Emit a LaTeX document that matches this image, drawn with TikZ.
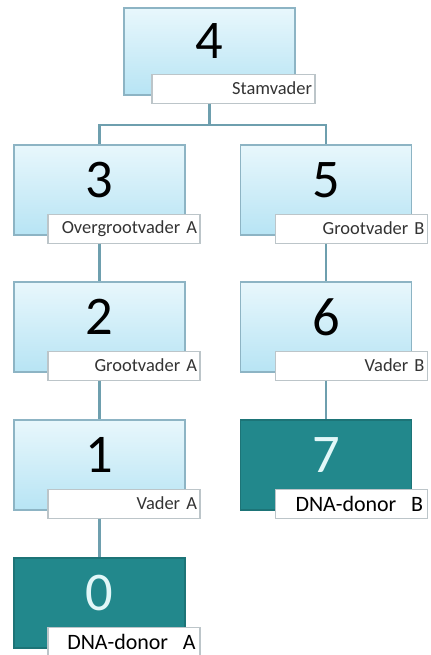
\documentclass[tikz,border=0pt]{standalone}
\usepackage{fontspec}
\setmainfont{Carlito}[WordSpace=0.7]
\usetikzlibrary{calc}
\definecolor{boxline}{HTML}{8DB4C4}
\definecolor{boxtop}{HTML}{E8F7FC}
\definecolor{boxbot}{HTML}{B7E4F4}
\definecolor{donor}{HTML}{22888C}
\definecolor{donortext}{HTML}{E2F7F8}
\definecolor{wire}{HTML}{6E9FAE}
\definecolor{tagline}{HTML}{BCC5C9}

\begin{document}
\begin{tikzpicture}[x=0.02cm,y=0.02cm,
  gen/.style={draw=boxline,line width=0.6pt,top color=boxtop,bottom color=boxbot,
    minimum width=3.42cm,minimum height=1.8cm,inner sep=0pt},
  donorbox/.style={draw=donor!85!black,line width=0.6pt,fill=donor,
    minimum width=3.42cm,minimum height=1.8cm,inner sep=0pt},
  num/.style={font=\fontsize{31}{31}\selectfont,inner sep=0pt},
  tag/.style={draw=tagline,line width=0.6pt,fill=white,anchor=north east,
    text width=2.92cm,align=right,inner xsep=0.06cm,inner ysep=0pt,
    minimum height=0.58cm,text=black!80,font=\fontsize{10.5}{10.5}\selectfont},
  donortag/.style={tag,text width=2.86cm,inner xsep=0.09cm,text=black,font=\fontsize{12.5}{12.5}\selectfont},
  wire/.style={draw=wire,line width=1.2pt}]
  \useasboundingbox (0,0) rectangle (431,655);

  \node[gen,minimum height=1.74cm] (b4) at (209.5,603.5) {};
  \node[num] (n4) at ($(b4)+(0,10)$) {4};
  \node[tag,text width=3.14cm] (l4) at ($(b4.south east)+(20,22)$) {Stamvader};

  \node[gen] (b3) at (99.5,465) {};
  \node[num] (n3) at ($(b3)+(0,10)$) {3};
  \node[tag] (l3) at ($(b3.south east)+(15,22)$) {Overgrootvader A};

  \node[gen] (b5) at (326,465) {};
  \node[num] (n5) at ($(b5)+(0,10)$) {5};
  \node[tag] (l5) at ($(b5.south east)+(16,22)$) {Grootvader B};

  \node[gen] (b2) at (99.5,328) {};
  \node[num] (n2) at ($(b2)+(0,10)$) {2};
  \node[tag] (l2) at ($(b2.south east)+(15,22)$) {Grootvader A};

  \node[gen] (b6) at (326,328) {};
  \node[num] (n6) at ($(b6)+(0,10)$) {6};
  \node[tag] (l6) at ($(b6.south east)+(16,22)$) {Vader B};

  \node[gen] (b1) at (99.5,190) {};
  \node[num] (n1) at ($(b1)+(0,10)$) {1};
  \node[tag] (l1) at ($(b1.south east)+(15,22)$) {Vader A};

  \node[donorbox] (b7) at (326,190) {};
  \node[num,text=donortext] (n7) at ($(b7)+(0,10)$) {7};
  \node[donortag] (l7) at ($(b7.south east)+(16,22)$) {DNA-donor\ \ B};

  \node[donorbox] (b0) at (99.5,52) {};
  \node[num,text=donortext] (n0) at ($(b0)+(0,10)$) {0};
  \node[donortag] (l0) at ($(b0.south east)+(15,22)$) {DNA-donor\ \ A};

  \coordinate (split) at (b4.south |- 0,530);
  \draw[wire] (l4.south -| b4.south) -- (split);
  \draw[wire] (b3.north) |- (split) -| (b5.north);
  \draw[wire] (l3.south -| b3.south) -- (b2.north);
  \draw[wire] (l2.south -| b2.south) -- (b1.north);
  \draw[wire] (l1.south -| b1.south) -- (b0.north);
  \draw[wire] (l5.south -| b5.south) -- (b6.north);
  \draw[wire] (l6.south -| b6.south) -- (b7.north);
\end{tikzpicture}
\end{document}
